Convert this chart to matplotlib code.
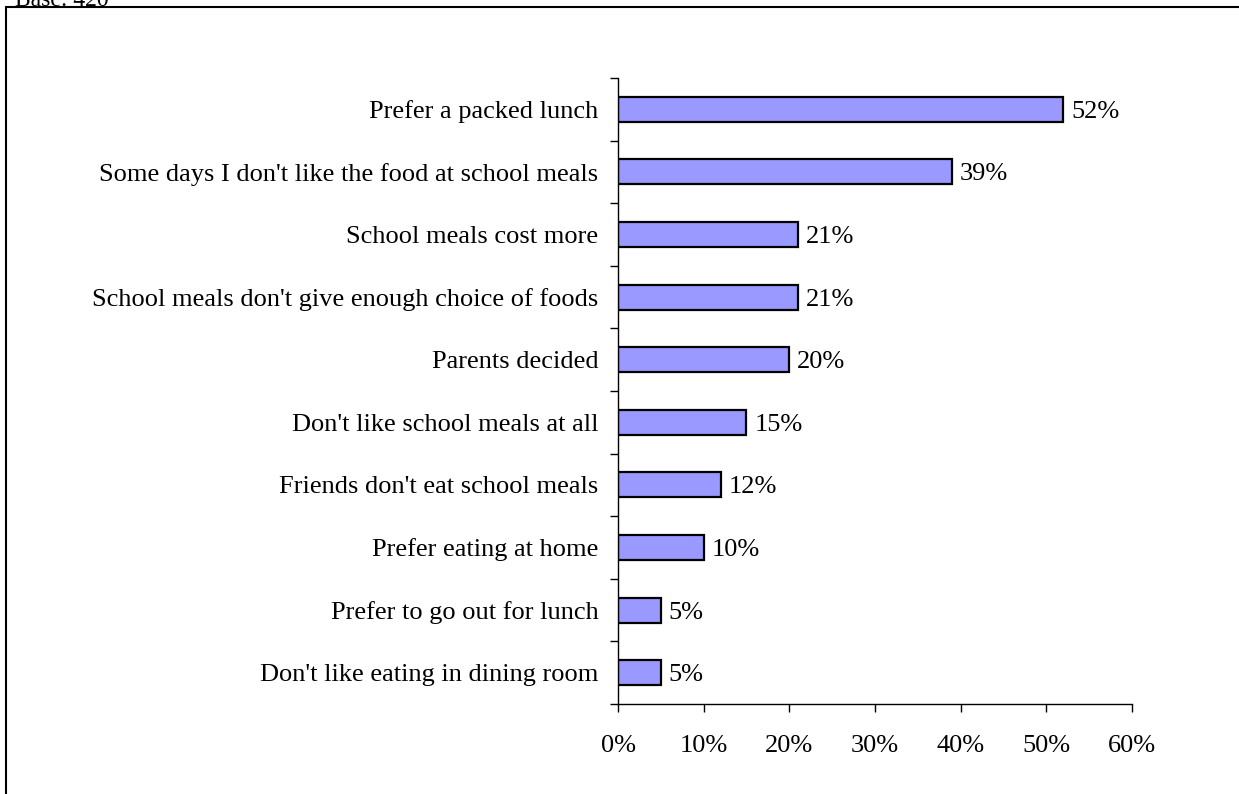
import numpy as np
import matplotlib
matplotlib.use("Agg")
import matplotlib.pyplot as plt
from matplotlib.patches import Rectangle
from matplotlib.ticker import FixedLocator

# reasons for not taking school meals, top to bottom as in the chart
reasons = [
    "Prefer a packed lunch",
    "Some days I don't like the food at school meals",
    "School meals cost more",
    "School meals don't give enough choice of foods",
    "Parents decided",
    "Don't like school meals at all",
    "Friends don't eat school meals",
    "Prefer eating at home",
    "Prefer to go out for lunch",
    "Don't like eating in dining room",
]
percent = [52, 39, 21, 21, 20, 15, 12, 10, 5, 5]
xticks = [0, 10, 20, 30, 40, 50, 60]
base_note = "Base: 420"

plt.rcParams['font.family'] = ['Liberation Serif', 'DejaVu Serif']
fs = 19

fig = plt.figure(figsize=(12.39, 7.94), dpi=100)
ax = fig.add_axes([0.4988, 0.1134, 0.4148, 0.7884])

ypos = np.arange(len(reasons))[::-1]
ax.barh(ypos, percent, height=0.4, color='#9999FF', edgecolor='black', linewidth=1.6)

for y, v in zip(ypos, percent):
    ax.text(v + 0.9, y, f"{v}%", va='center_baseline', ha='left', fontsize=fs)

ax.set_xlim(0, 60)
ax.set_ylim(-0.5, len(reasons) - 0.5)

ax.set_yticks(ypos)
ax.set_yticklabels(reasons, fontsize=fs)
ax.yaxis.set_minor_locator(FixedLocator(np.arange(-0.5, len(reasons), 1.0)))
ax.tick_params(axis='y', which='major', length=0, pad=14)
ax.tick_params(axis='y', which='minor', length=6, width=1, direction='out')

ax.set_xticks(xticks)
ax.set_xticklabels([f"{t}%" for t in xticks], fontsize=fs)
ax.tick_params(axis='x', length=6, width=1, direction='out', pad=16)

for s in ['top', 'right']:
    ax.spines[s].set_visible(False)
for s in ['left', 'bottom']:
    ax.spines[s].set_linewidth(1)

# outer frame, cut off at the right and bottom edges
frame = Rectangle((6 / 1239, -0.1), 1.2, 1 - 7 / 794 + 0.1, transform=fig.transFigure,
                  fill=False, edgecolor='black', linewidth=1.5, clip_on=False)
fig.patches.append(frame)

fig.text(15 / 1239, 1.0, base_note, ha='left', va='center', fontsize=17)

fig.savefig("out.png", dpi=100)
